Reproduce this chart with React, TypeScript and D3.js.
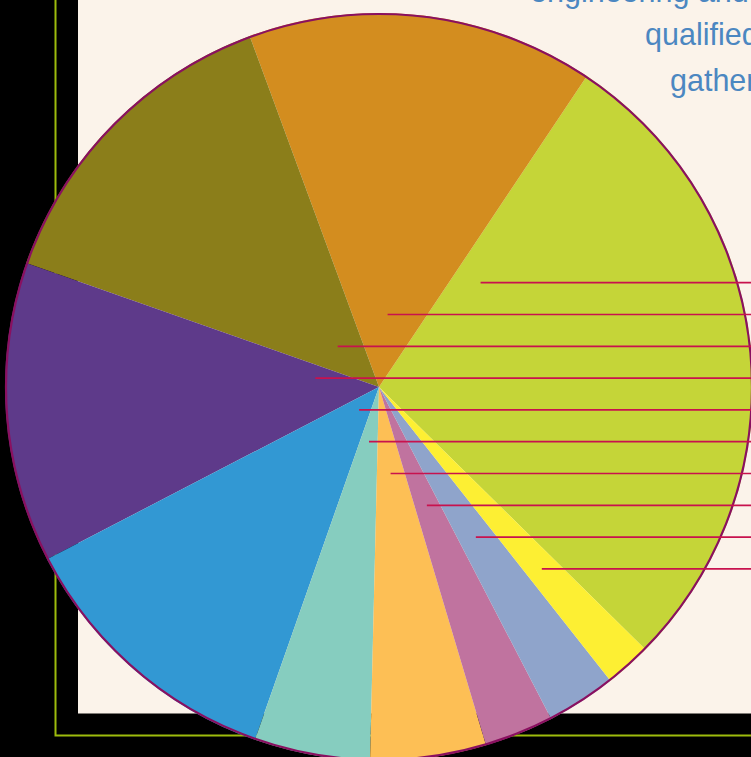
import React from "react";
import * as d3 from "d3";

// Data, in the order of the leader lines (top to bottom)
const categories = [
  "Category 1",
  "Category 2",
  "Category 3",
  "Category 4",
  "Category 5",
  "Category 6",
  "Category 7",
  "Category 8",
  "Category 9",
  "Category 10",
];
const values = [28, 15, 14, 13, 12, 5, 5, 3, 3, 2];
const sliceColors = [
  "#C5D538",
  "#D38D1F",
  "#8B7E1A",
  "#5E3A8A",
  "#3298D3",
  "#86CDBF",
  "#FDBF55",
  "#C0739F",
  "#8FA4CB",
  "#FDEF33",
];
const noteLines = ["engineering and", "qualified", "gathered"];

const W = 751;
const H = 757;

export default function App() {
  React.useEffect(() => {
    document.body.style.margin = "0";
    document.body.style.background = "#000";
  }, []);

  const cx = 379;
  const cy = 387;
  const R = 374;
  const start = (134.57 * Math.PI) / 180;

  const pie = d3
    .pie<number>()
    .sort(null)
    .value((d) => d)
    .startAngle(start)
    .endAngle(start - 2 * Math.PI);
  const arcs = pie(values);
  const arc = d3.arc<d3.PieArcDatum<number>>().innerRadius(0).outerRadius(R);

  // Leader line rows
  const rowY = d3
    .scaleLinear()
    .domain([0, categories.length - 1])
    .range([282.7, 282.7 + 31.8 * (categories.length - 1)]);

  const anchorX = (a: d3.PieArcDatum<number>, y: number) => {
    const dy = y - cy;
    const mid = (a.startAngle + a.endAngle) / 2;
    const t = dy / -Math.cos(mid);
    if (t > 0 && t < R) return cx + t * Math.sin(mid);
    const half = Math.sqrt(Math.max(0, R * R - dy * dy));
    for (const e of [a.startAngle, a.endAngle]) {
      const te = dy / -Math.cos(e);
      if (te > 0 && te < R) {
        const xe = cx + te * Math.sin(e);
        const xc = Math.sin(e) >= 0 ? cx + half : cx - half;
        return xe + 0.11 * (xc - xe);
      }
    }
    return cx;
  };

  return (
    <div style={{ position: "absolute", left: 0, top: 0, width: W, height: H }}>
      <svg width={W} height={H} viewBox={`0 0 ${W} ${H}`} style={{ display: "block" }}>
        <rect x={0} y={0} width={W} height={H} fill="#000" />
        <rect x={78} y={-10} width={W} height={723.5} fill="#FBF3EA" />
        <path
          d={`M55.5,-5 L55.5,735.5 L${W + 5},735.5`}
          fill="none"
          stroke="#9DBB0C"
          strokeWidth={2}
        />
        <g transform={`translate(${cx},${cy})`}>
          {arcs.map((a, i) => (
            <path key={categories[i]} d={arc(a) || ""} fill={sliceColors[i]} />
          ))}
          <circle r={R - 1} fill="none" stroke="#8A1060" strokeWidth={2.2} />
        </g>
        <g>
          {arcs.map((a, i) => {
            const y = rowY(i);
            return (
              <line
                key={"l" + i}
                x1={anchorX(a, y)}
                x2={W + 10}
                y1={y}
                y2={y}
                stroke="#C8124E"
                strokeWidth={1.7}
              />
            );
          })}
        </g>
        <g
          fontFamily="'Liberation Sans', Arial, sans-serif"
          fontSize={30.5}
          fill="#4B87C1"
        >
          <text x={530} y={1.5}>{noteLines[0]}</text>
          <text x={645} y={44.5}>{noteLines[1]}</text>
          <text x={670} y={90.5}>{noteLines[2]}</text>
        </g>
      </svg>
    </div>
  );
}
